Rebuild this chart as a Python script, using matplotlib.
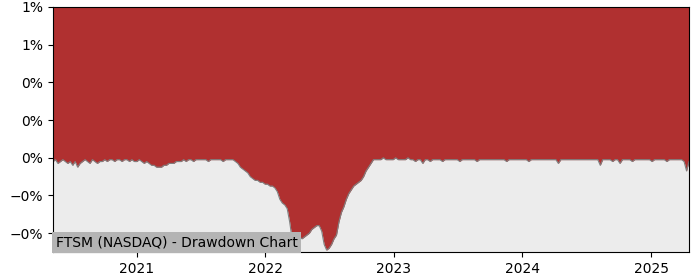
import numpy as np
import pandas as pd
import matplotlib
matplotlib.use("Agg")
import matplotlib.pyplot as plt
import matplotlib.dates as mdates
from matplotlib.ticker import PercentFormatter

# Weekly drawdown readings (in basis points of the plotted fraction)
drawdown_bp = [
    -2, -1, -3, -2, -1, -2, -3, -2, -4, -2,
    -5, -3, -2, -1, -2, -3, -1, -2, -3, -2,
    -2, -1, -2, -1, -1, -2, -1, -1, -2, -1,
    -1, -2, -1, -2, -2, -1, -2, -3, -2, -3,
    -4, -4, -5, -5, -5, -4, -4, -3, -3, -3,
    -2, -2, -2, -1, -2, -1, -1, -2, -1, -1,
    -1, -1, -1, -2, -1, -1, -1, -1, -1, -2,
    -1, -1, -1, -1, -2, -3, -5, -6, -7, -8,
    -10, -11, -12, -12, -13, -13, -14, -14, -15, -15,
    -16, -18, -22, -24, -25, -27, -34, -43, -46, -44,
    -42, -43, -42, -41, -40, -38, -37, -36, -36, -39,
    -46, -49, -48, -46, -43, -41, -34, -29, -26, -22,
    -19, -17, -15, -14, -13, -12, -10, -7, -5, -3,
    -1, -1, -1, -1, 0, -1, -1, -1, -1, 0,
    -1, -1, -1, -1, 0, -1, -1, -2, -1, -1,
    -3, -1, -1, -2, -1, -1, -1, -1, -2, -1,
    -1, -1, -1, -1, -1, -2, -1, -1, -1, -1,
    -1, -1, -2, -1, -1, -1, -1, -1, -1, -1,
    -1, -1, -1, -1, -2, -1, -1, -1, -1, -1,
    -1, -1, -1, -2, -1, -1, -1, -1, -1, -1,
    -1, -1, -1, -1, -1, -3, -1, -1, -1, -1,
    -1, -1, -1, -1, -1, -1, -1, -1, -1, -1,
    -1, -1, -4, -1, -1, -1, -1, -2, -1, -1,
    -3, -1, -1, -1, -1, -2, -1, -1, -1, -1,
    -1, -1, -1, -2, -1, -1, -1, -1, -1, -2,
    -1, -1, -1, -1, -1, -1, -2, -7, -2,
]
start_date = "2020-05-08"
label = "FTSM (NASDAQ) - Drawdown Chart"
y_top = 0.008
y_bottom = -0.005

dates = pd.date_range(start_date, periods=len(drawdown_bp), freq="W-FRI")
dd = np.array(drawdown_bp) / 10000.0

fig = plt.figure(figsize=(7, 2.8), dpi=100)
ax = fig.add_axes([0.0757, 0.1, 0.9086, 0.875])
ax.set_facecolor("#ececec")

# red area above the drawdown line, grey below
ax.fill_between(dates, dd, y_top + 0.001, color="#b03030", linewidth=0)
ax.plot(dates, dd, color="#808080", linewidth=0.8)

ax.set_xlim(dates[0], dates[-1])
ax.set_ylim(y_bottom, y_top)
ax.set_yticks(np.arange(-0.004, 0.0081, 0.002))
ax.yaxis.set_major_formatter(PercentFormatter(xmax=1, decimals=0))
ax.xaxis.set_major_locator(mdates.YearLocator())
ax.xaxis.set_major_formatter(mdates.DateFormatter("%Y"))

ax.text(0.004, 0.012, label, transform=ax.transAxes, fontsize=10,
        color="black", va="bottom", ha="left",
        bbox=dict(facecolor="#b4b4b4", edgecolor="none", pad=2.5))

fig.savefig("out.png", dpi=100)
